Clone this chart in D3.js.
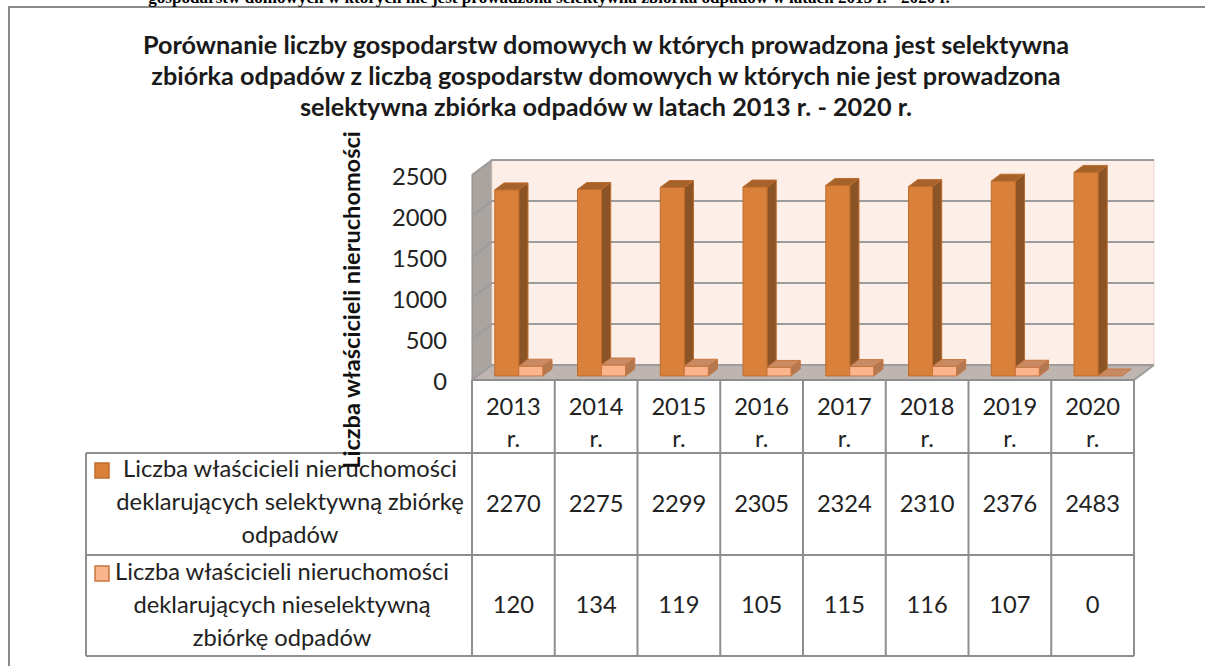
<!DOCTYPE html>
<html><head><meta charset="utf-8">
<script src="https://cdn.jsdelivr.net/npm/d3@7"></script>
<style>body{margin:0;background:#fff}svg{display:block}</style>
</head><body><svg id="c" width="1205" height="666"></svg>
<script>
// ---------- DATA ----------
const years = ["2013","2014","2015","2016","2017","2018","2019","2020"];
const selective = [2270,2275,2299,2305,2324,2310,2376,2483];
const nonSelective = [120,134,119,105,115,116,107,0];
const yTicks = [0,500,1000,1500,2000,2500];
const yearSuffix = "r.";
const seriesLabels = [
  ["Liczba właścicieli nieruchomości","deklarujących selektywną zbiórkę","odpadów"],
  ["Liczba właścicieli nieruchomości","deklarujących nieselektywną","zbiórkę odpadów"]
];
const titleLines = [
  "Porównanie liczby gospodarstw  domowych w których prowadzona jest selektywna",
  "zbiórka odpadów z liczbą gospodarstw domowych w których nie jest prowadzona",
  "selektywna zbiórka odpadów  w latach 2013 r. - 2020 r."
];
const yAxisTitle = "Liczba właścicieli nieruchomości";
const topCaption = "gospodarstw domowych w których nie jest prowadzona selektywna zbiórka odpadów w latach 2013 r. - 2020 r.";

// ---------- STYLE / LAYOUT ----------
const svg = d3.select("#c");
const SANS = "Lato, 'Open Sans', sans-serif";
const DX = 20, DY = 15, Z0 = 0.27, Z1 = 0.73;
const colors = [
  {front:"#D9803B", side:"#8B5426", top:"#A6622B", stroke:"#BF6C2C"},
  {front:"#FBB58D", side:"#B47851", top:"#C78A63", stroke:"#C9763F"}
];
const x = d3.scaleBand().domain(years).range([472,1134]);
const xs = d3.scaleBand().domain([0,1]).range([0,x.bandwidth()]).paddingOuter(0.724).paddingInner(0);
const y = d3.scaleLinear().domain([0,2500]).range([380,175]);
const P = (xw, v, z) => [xw + DX*z, y(v) - DY*z];
const xL = x.range()[0], xR = x.range()[1];
const rowLines = [453,555,656];
const tableLeft = 86;
const gridColor = "#9C9C9C", tableColor = "#8E8E8E";

function fit(sel, target){
  const n = sel.node(); const fs = parseFloat(sel.attr("font-size"));
  const w = n.getComputedTextLength();
  sel.attr("font-size", fs*target/w);
  return fs*target/w;
}

// frame
svg.append("path").attr("d","M9,666 L9,7 L1205,7").attr("fill","none").attr("stroke","#8A8A8A").attr("stroke-width",2);

// top clipped caption
const cap = svg.append("text").attr("x",549).attr("y",3).attr("text-anchor","middle")
  .attr("font-family","'Liberation Serif','Times New Roman',serif").attr("font-weight","bold")
  .attr("font-size",16).attr("fill","#000").text(topCaption);
fit(cap, 802);

// title
const tg = svg.append("g");
const tLines = titleLines.map((t,i)=> tg.append("text").attr("x",606).attr("y",54+i*31)
  .attr("text-anchor","middle").attr("font-family",SANS).attr("font-weight","bold")
  .attr("font-size",20).attr("fill","#1a1a1a").text(t));
const tfs = fit(tLines[1], 910);
tLines.forEach(t=>t.attr("font-size",tfs));

// walls
const side = [P(xL,0,0),P(xL,2500,0),P(xL,2500,1),P(xL,0,1)];
svg.append("polygon").attr("points",side.join(" ")).attr("fill","#A9A4A0").attr("stroke","#8E8A87").attr("stroke-width",1);
const bw0 = P(xL,2500,1), bw1 = P(xR,0,1);
svg.append("rect").attr("x",bw0[0]).attr("y",bw0[1]).attr("width",bw1[0]-bw0[0]).attr("height",bw1[1]-bw0[1])
  .attr("fill","#FDEEE7").attr("stroke","#EBD6CC").attr("stroke-width",1);
const floor = [P(xL,0,0),P(xR,0,0),P(xR,0,1),P(xL,0,1)];
svg.append("polygon").attr("points",floor.join(" ")).attr("fill","#BEB5B0");
svg.append("g").selectAll("path").data(yTicks).join("path")
  .attr("d",v=>"M"+P(xL,v,0)+"L"+P(xL,v,1)+"L"+P(xR,v,1))
  .attr("fill","none").attr("stroke",gridColor).attr("stroke-width",2);
svg.append("path").attr("d","M"+P(xR,0,1)+"L"+P(xR,0,0)).attr("stroke",gridColor).attr("stroke-width",2);

// bars
const bars = svg.append("g");
years.forEach((yr,i)=>{
  [selective[i], nonSelective[i]].forEach((v,s)=>{
    const c = colors[s];
    const xw = x(yr) + xs(s), w = xs.bandwidth();
    const fTL = P(xw,v,Z0), fBR = P(xw+w,0,Z0);
    const bdx = DX*(Z1-Z0), bdy = DY*(Z1-Z0);
    const g = bars.append("g").attr("stroke",c.stroke).attr("stroke-width",1).attr("stroke-linejoin","round");
    if (fBR[1]-fTL[1] > 0){
      g.append("polygon").attr("points",[[fBR[0],fTL[1]],[fBR[0]+bdx,fTL[1]-bdy],[fBR[0]+bdx,fBR[1]-bdy],[fBR[0],fBR[1]]].join(" ")).attr("fill",c.side);
      g.append("rect").attr("x",fTL[0]).attr("y",fTL[1]).attr("width",w).attr("height",fBR[1]-fTL[1]).attr("fill",c.front);
    }
    g.append("polygon").attr("points",[[fTL[0],fTL[1]],[fTL[0]+bdx,fTL[1]-bdy],[fBR[0]+bdx,fTL[1]-bdy],[fBR[0],fTL[1]]].join(" ")).attr("fill",c.top);
  });
});

// y axis tick labels
const ax = svg.append("g").attr("transform","translate(447,2)")
  .call(d3.axisLeft(y).tickValues(yTicks).tickSize(0).tickPadding(0).tickFormat(d3.format("d")));
ax.select(".domain").remove();
ax.selectAll("text").attr("font-family",SANS).attr("font-size",20).attr("fill","#222");

// table
const tb = svg.append("g").attr("fill","none").attr("stroke",tableColor).attr("stroke-width",2);
tb.append("path").attr("d",`M${xL},380 L${xR},380`);
const edges = years.map(yr=>x(yr)).concat([xR]);
edges.forEach(e=>tb.append("path").attr("d",`M${e},380 L${e},${rowLines[2]}`));
rowLines.forEach(r=>tb.append("path").attr("d",`M${tableLeft},${r} L${xR},${r}`));
tb.append("path").attr("d",`M${tableLeft},${rowLines[0]} L${tableLeft},${rowLines[2]}`);

const txt = svg.append("g").attr("font-family",SANS).attr("fill","#222").attr("text-anchor","middle");
// body font size fitted from a legend line
const probe = txt.append("text").attr("x",282).attr("y",580).attr("font-size",20).text(seriesLabels[1][0]);
const bfs = fit(probe, 334);
probe.remove();
ax.selectAll("text").attr("font-size",bfs);

years.forEach(yr=>{
  const cx = x(yr)+x.bandwidth()/2;
  txt.append("text").attr("x",cx).attr("y",415).attr("font-size",bfs).text(yr);
  txt.append("text").attr("x",cx).attr("y",447).attr("font-size",bfs).text(yearSuffix);
});
[selective, nonSelective].forEach((arr,s)=>{
  arr.forEach((v,i)=>{
    txt.append("text").attr("x",x(years[i])+x.bandwidth()/2).attr("y",[512,613][s]).attr("font-size",bfs).text(v);
  });
});
const legCx = [290,282], legY = [477,580];
seriesLabels.forEach((lines,s)=>{
  lines.forEach((l,j)=>txt.append("text").attr("x",legCx[s]).attr("y",legY[s]+j*33).attr("font-size",bfs).text(l));
  svg.append("rect").attr("x",95).attr("y",[463,566][s]).attr("width",14).attr("height",15)
    .attr("fill",colors[s].front).attr("stroke",colors[s].stroke).attr("stroke-width",1.5);
});

// y axis title
const yt = svg.append("text").attr("transform","translate(360,300) rotate(-90)").attr("text-anchor","middle")
  .attr("font-family",SANS).attr("font-weight","bold").attr("font-size",20).attr("fill","#111").text(yAxisTitle);
fit(yt, 338);
</script></body></html>
